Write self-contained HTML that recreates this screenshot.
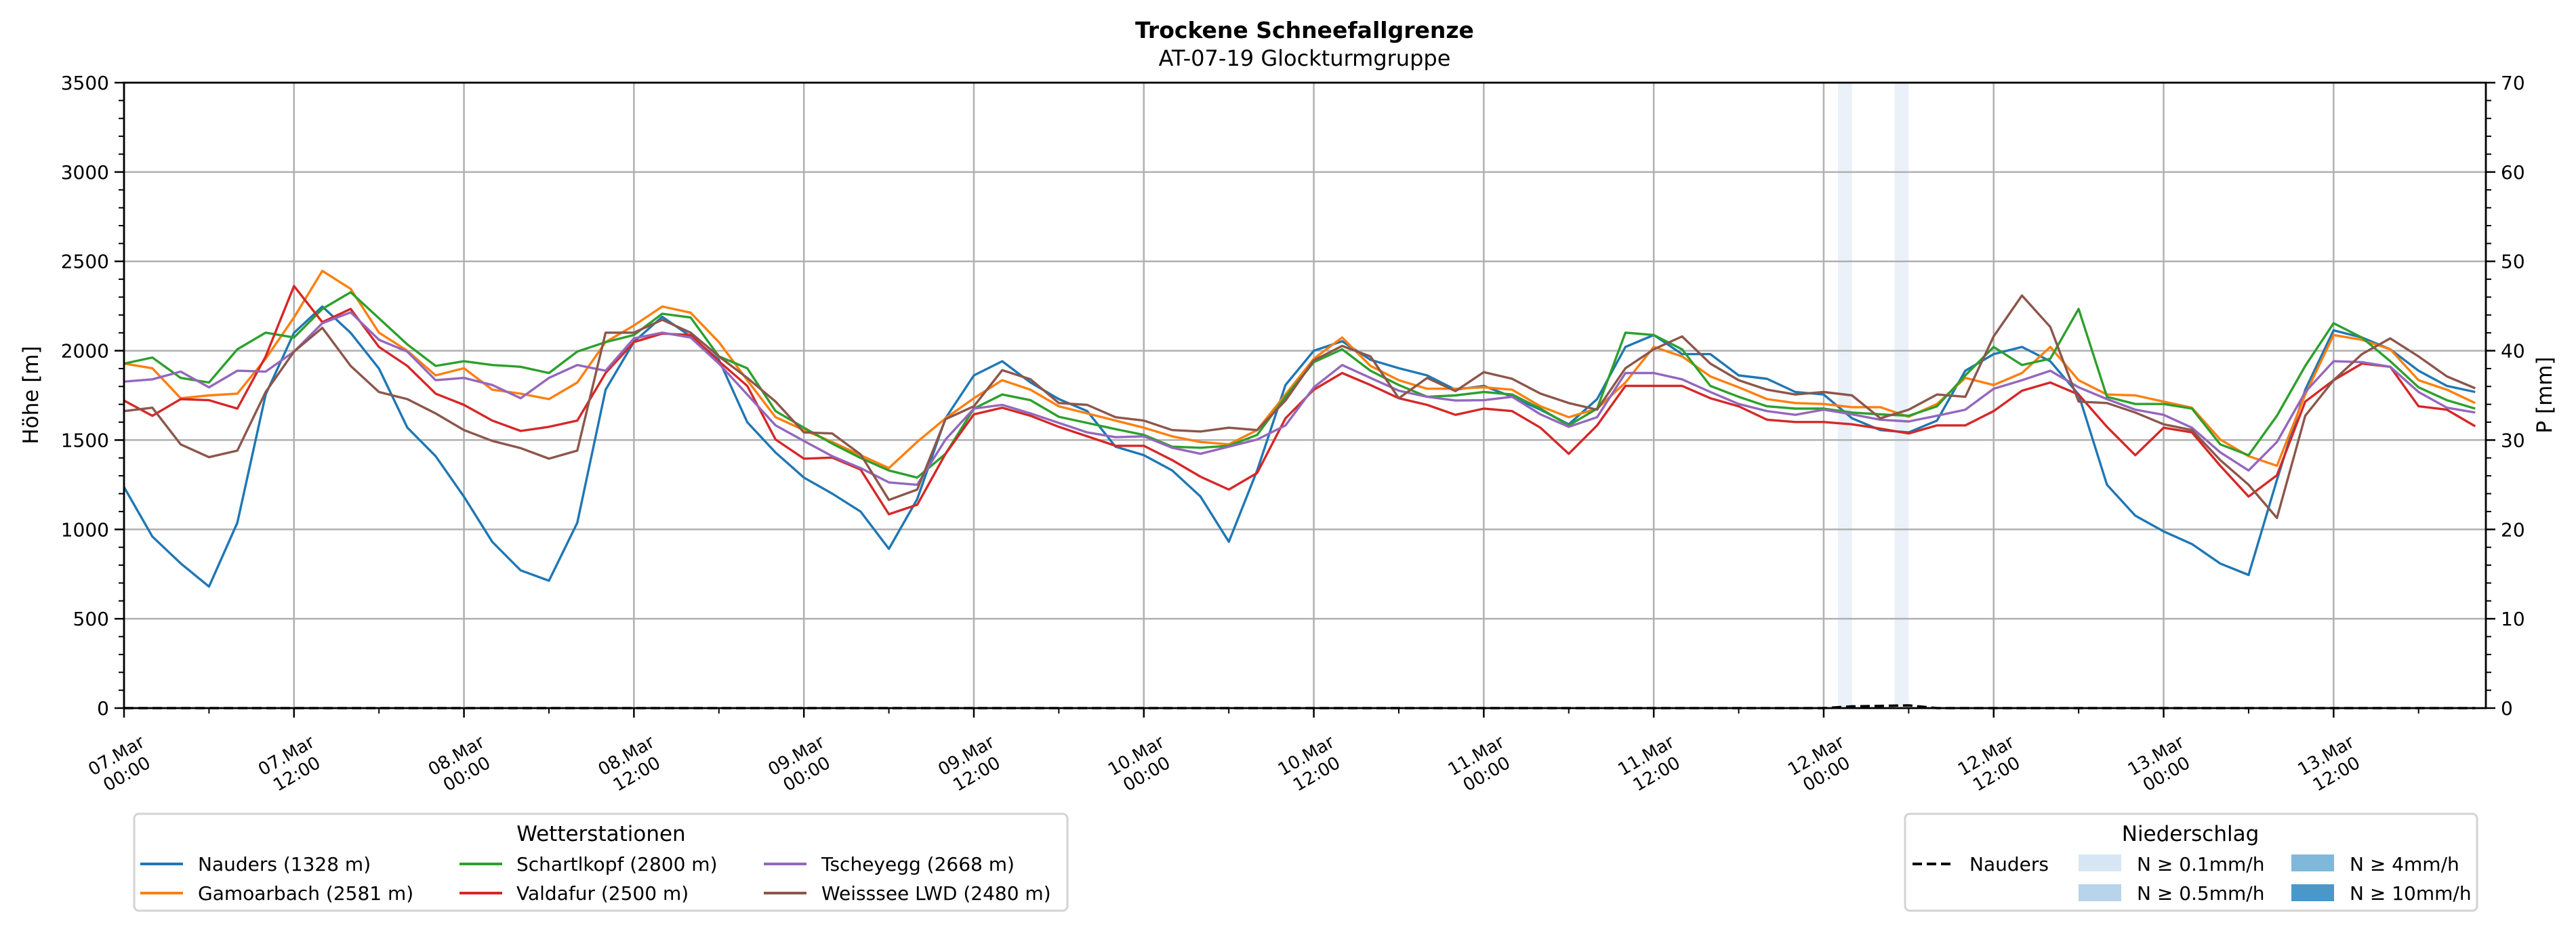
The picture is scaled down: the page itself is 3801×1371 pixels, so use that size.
<!DOCTYPE html>
<html><head><meta charset="utf-8">
<style>
html,body{margin:0;padding:0;background:#fff;}
svg{display:block;font-family:"DejaVu Sans","Liberation Sans",sans-serif;}
</style></head>
<body>
<svg id="chart" width="3801" height="1371" viewBox="0 0 3801 1371" xmlns="http://www.w3.org/2000/svg">
<rect x="0" y="0" width="3801" height="1371" fill="#fff"/>
<text x="1925" y="56" font-size="33" font-weight="bold" text-anchor="middle">Trockene Schneefallgrenze</text>
<text x="1925" y="97" font-size="32" text-anchor="middle">AT-07-19 Glockturmgruppe</text>
<g id="shade"></g>
<g id="grid"></g>
<g id="series"></g>
<g id="axes"></g>
<text x="0" y="0" font-size="31" text-anchor="middle" transform="translate(56,583) rotate(-90)">Höhe [m]</text>
<text x="0" y="0" font-size="31" text-anchor="middle" transform="translate(3765,583) rotate(-90)">P [mm]</text>

<g>
<rect x="198" y="1201" width="1377" height="143" rx="7" fill="#fff" stroke="#d3d3d3" stroke-width="3"/>
<text x="887" y="1241" font-size="31" text-anchor="middle">Wetterstationen</text>
<g><line x1="207" y1="1275" x2="270" y2="1275" stroke="#1f77b4" stroke-width="4"/><text x="292" y="1285" font-size="28">Nauders (1328 m)</text></g>
<g><line x1="207" y1="1318" x2="270" y2="1318" stroke="#ff7f0e" stroke-width="4"/><text x="292" y="1328" font-size="28">Gamoarbach (2581 m)</text></g>
<g><line x1="678" y1="1275" x2="741" y2="1275" stroke="#2ca02c" stroke-width="4"/><text x="762" y="1285" font-size="28">Schartlkopf (2800 m)</text></g>
<g><line x1="678" y1="1318" x2="741" y2="1318" stroke="#d62728" stroke-width="4"/><text x="762" y="1328" font-size="28">Valdafur (2500 m)</text></g>
<g><line x1="1127" y1="1275" x2="1190" y2="1275" stroke="#9467bd" stroke-width="4"/><text x="1212" y="1285" font-size="28">Tscheyegg (2668 m)</text></g>
<g><line x1="1127" y1="1318" x2="1190" y2="1318" stroke="#8c564b" stroke-width="4"/><text x="1212" y="1328" font-size="28">Weisssee LWD (2480 m)</text></g>
</g>

<g>
<rect x="2811" y="1201" width="844" height="143" rx="7" fill="#fff" stroke="#d3d3d3" stroke-width="3"/>
<text x="3232" y="1241" font-size="31" text-anchor="middle">Niederschlag</text>
<g><line x1="2822" y1="1275" x2="2878" y2="1275" stroke="#000" stroke-width="4" stroke-dasharray="14,7"/><text x="2906" y="1285" font-size="28">Nauders</text></g>
<g><rect x="3067" y="1261" width="63" height="25" fill="#d6e6f4"/><text x="3153" y="1285" font-size="28">N ≥ 0.1mm/h</text></g>
<g><rect x="3067" y="1305" width="63" height="25" fill="#b7d4ea"/><text x="3153" y="1328" font-size="28">N ≥ 0.5mm/h</text></g>
<g><rect x="3381" y="1261" width="63" height="25" fill="#7fb8da"/><text x="3467" y="1285" font-size="28">N ≥ 4mm/h</text></g>
<g><rect x="3381" y="1305" width="63" height="25" fill="#4a98c9"/><text x="3467" y="1328" font-size="28">N ≥ 10mm/h</text></g>
</g>
</svg>
<script>
// ---- data ----
const hours = [0,2,4,6,8,10,12,14,16,18,20,22,24,26,28,30,32,34,36,38,40,42,44,46,48,50,52,54,56,58,60,62,64,66,68,70,72,74,76,78,80,82,84,86,88,90,92,94,96,98,100,102,104,106,108,110,112,114,116,118,120,122,124,126,128,130,132,134,136,138,140,142,144,146,148,150,152,154,156,158,160,162,164,166];
const nauders = [1237,960,810,680,1037,1755,2100,2247,2100,1900,1570,1410,1183,930,771,713,1037,1782,2050,2190,2080,1950,1600,1430,1290,1200,1100,891,1170,1622,1862,1941,1822,1729,1662,1463,1415,1330,1184,931,1330,1808,2000,2053,1949,1902,1862,1782,1803,1742,1670,1588,1729,2021,2088,1981,1981,1862,1843,1769,1755,1622,1556,1543,1609,1888,1981,2021,1941,1755,1250,1077,989,918,809,745,1277,1782,2114,2074,2008,1888,1803,1769];
const gamoarbach = [1928,1902,1734,1750,1760,1955,2186,2447,2346,2101,2000,1862,1902,1782,1760,1729,1822,2048,2141,2247,2213,2048,1835,1628,1556,1489,1415,1343,1490,1622,1734,1835,1782,1689,1649,1609,1569,1521,1489,1476,1556,1755,1955,2074,1915,1835,1787,1787,1795,1782,1689,1628,1676,1822,2021,1968,1856,1795,1729,1707,1702,1684,1684,1630,1702,1848,1808,1875,2021,1835,1755,1750,1715,1681,1503,1410,1356,1755,2088,2061,2008,1835,1782,1707];
const schartlkopf = [1928,1962,1848,1822,2008,2101,2074,2234,2327,2181,2035,1915,1941,1920,1910,1875,1995,2048,2088,2207,2186,1968,1902,1662,1569,1480,1400,1330,1290,1423,1676,1755,1723,1630,1596,1561,1529,1463,1457,1468,1529,1742,1936,2008,1888,1808,1742,1750,1769,1755,1676,1582,1676,2101,2088,2008,1803,1742,1689,1676,1676,1654,1644,1636,1689,1862,2021,1920,1955,2234,1742,1702,1702,1676,1476,1415,1636,1915,2154,2074,1941,1795,1723,1676];
const valdafur = [1721,1636,1729,1723,1676,1968,2362,2160,2234,2021,1915,1760,1697,1609,1551,1574,1609,1875,2048,2096,2088,1941,1803,1503,1396,1402,1335,1085,1138,1423,1644,1681,1636,1574,1521,1468,1468,1388,1295,1223,1316,1622,1782,1875,1808,1734,1697,1641,1676,1662,1569,1423,1582,1803,1803,1803,1734,1689,1614,1601,1601,1588,1564,1537,1582,1582,1662,1776,1822,1755,1574,1415,1569,1543,1356,1184,1303,1715,1835,1928,1910,1689,1670,1577];
const tscheyegg = [1827,1840,1883,1795,1888,1883,1995,2154,2215,2061,1995,1835,1848,1808,1734,1848,1920,1888,2069,2101,2074,1928,1755,1582,1495,1410,1343,1263,1250,1503,1676,1697,1649,1596,1543,1516,1521,1457,1423,1463,1503,1582,1795,1920,1848,1776,1742,1721,1723,1742,1644,1574,1628,1875,1875,1840,1769,1702,1662,1641,1670,1644,1614,1604,1636,1670,1787,1835,1888,1795,1729,1670,1641,1569,1431,1330,1489,1769,1941,1936,1910,1769,1681,1654];
const weisssee = [1662,1681,1476,1404,1441,1769,1995,2128,1915,1769,1729,1649,1556,1495,1455,1396,1441,2101,2101,2173,2101,1968,1848,1715,1543,1537,1420,1165,1223,1617,1689,1891,1840,1707,1697,1628,1609,1556,1548,1569,1556,1721,1946,2027,1968,1734,1848,1774,1880,1843,1760,1707,1670,1902,2008,2080,1928,1835,1782,1755,1769,1750,1622,1670,1755,1742,2080,2309,2133,1715,1707,1654,1588,1556,1388,1250,1064,1636,1835,1981,2069,1968,1856,1790];
const precipNauders = [0,0,0,0,0,0,0,0,0,0,0,0,0,0,0,0,0,0,0,0,0,0,0,0,0,0,0,0,0,0,0,0,0,0,0,0,0,0,0,0,0,0,0,0,0,0,0,0,0,0,0,0,0,0,0,0,0,0,0,0,0,0.2,0.25,0.3,0,0,0,0,0,0,0,0,0,0,0,0,0,0,0,0,0,0,0,0];
const shadeStartHours = [121,125];
const shadeDurations = [1,1];
const yTicks = [0,500,1000,1500,2000,2500,3000,3500];
const y2Ticks = [0,10,20,30,40,50,60,70];
const xTickHours = [0,12,24,36,48,60,72,84,96,108,120,132,144,156];
const xTickDays = ["07.Mar","07.Mar","08.Mar","08.Mar","09.Mar","09.Mar","10.Mar","10.Mar","11.Mar","11.Mar","12.Mar","12.Mar","13.Mar","13.Mar"];
const xTickTimes = ["00:00","12:00","00:00","12:00","00:00","12:00","00:00","12:00","00:00","12:00","00:00","12:00","00:00","12:00"];

// ---- scales ----
const L=183,R=3668,T=122,B=1045,XMAX=166.75,YMAX=3500,Y2MAX=70;
const xs=h=>L+(h/XMAX)*(R-L);
const ys=v=>B-(v/YMAX)*(B-T);
const y2s=p=>B-(p/Y2MAX)*(B-T);
const NS="http://www.w3.org/2000/svg";
function mk(tag,attrs,parent){const e=document.createElementNS(NS,tag);for(const k in attrs)e.setAttribute(k,attrs[k]);parent.appendChild(e);return e;}

const shade=document.getElementById('shade');
shadeStartHours.forEach((h,i)=>{
  const r=mk('rect',{x:xs(h),y:T,width:xs(h+shadeDurations[i])-xs(h),height:B-T,fill:'#eaf1f9'},shade);
  
  
});

const grid=document.getElementById('grid');
yTicks.forEach(v=>{const l=mk('line',{x1:L,x2:R,y1:ys(v),y2:ys(v),stroke:'#b0b0b0','stroke-width':2.5},grid);
  
  });
xTickHours.forEach(h=>{const l=mk('line',{x1:xs(h),x2:xs(h),y1:T,y2:B,stroke:'#b0b0b0','stroke-width':2.5},grid);
  
  });

const series=document.getElementById('series');
const allSeries=[[nauders,'#1f77b4','line-nauders'],[gamoarbach,'#ff7f0e','line-gamoarbach'],[schartlkopf,'#2ca02c','line-schartlkopf'],[valdafur,'#d62728','line-valdafur'],[tscheyegg,'#9467bd','line-tscheyegg'],[weisssee,'#8c564b','line-weisssee']];
allSeries.forEach(s=>{
  const d=s[0].map((v,i)=>(i?'L':'M')+xs(hours[i]).toFixed(1)+','+ys(v).toFixed(1)).join(' ');
  const p=mk('path',{d:d,fill:'none',stroke:s[1],'stroke-width':3.4,'stroke-linejoin':'round'},series);
  
  
});
const pd=precipNauders.map((v,i)=>(i?'L':'M')+xs(hours[i]).toFixed(1)+','+y2s(v).toFixed(1)).join(' ');
const pp=mk('path',{d:pd,fill:'none',stroke:'#000','stroke-width':3.5,'stroke-dasharray':'14,7'},series);



const axes=document.getElementById('axes');
mk('rect',{x:L,y:T,width:R-L,height:B-T,fill:'none',stroke:'#000','stroke-width':2.8},axes);
for(let v=0;v<=YMAX;v+=100){const maj=v%500===0;mk('line',{x1:L-(maj?14:8),x2:L,y1:ys(v),y2:ys(v),stroke:'#000','stroke-width':maj?2.5:2},axes);}
for(let p=0;p<=Y2MAX;p+=2){const maj=p%10===0;mk('line',{x1:R,x2:R+(maj?14:8),y1:y2s(p),y2:y2s(p),stroke:'#000','stroke-width':maj?2.5:2},axes);}
for(let h=0;h<=XMAX;h+=6){const maj=h%12===0;mk('line',{x1:xs(h),x2:xs(h),y1:B,y2:B+(maj?14:8),stroke:'#000','stroke-width':maj?2.5:2},axes);}
yTicks.forEach(v=>{const t=mk('text',{x:L-22,y:ys(v)+10,'font-size':28,'text-anchor':'end'},axes);t.textContent=v;
  
  });
y2Ticks.forEach(p=>{const t=mk('text',{x:R+22,y:y2s(p)+10,'font-size':28},axes);t.textContent=p;
  
  });
xTickHours.forEach((h,i)=>{
  const g=mk('text',{'font-size':26,'text-anchor':'middle',transform:'translate('+(xs(h)-4)+',1128) rotate(-30)'},axes);
  
  
  const a=mk('tspan',{x:0,y:-6},g);a.textContent=xTickDays[i];
  const b=mk('tspan',{x:0,y:25},g);b.textContent=xTickTimes[i];
});
</script>
</body></html>
